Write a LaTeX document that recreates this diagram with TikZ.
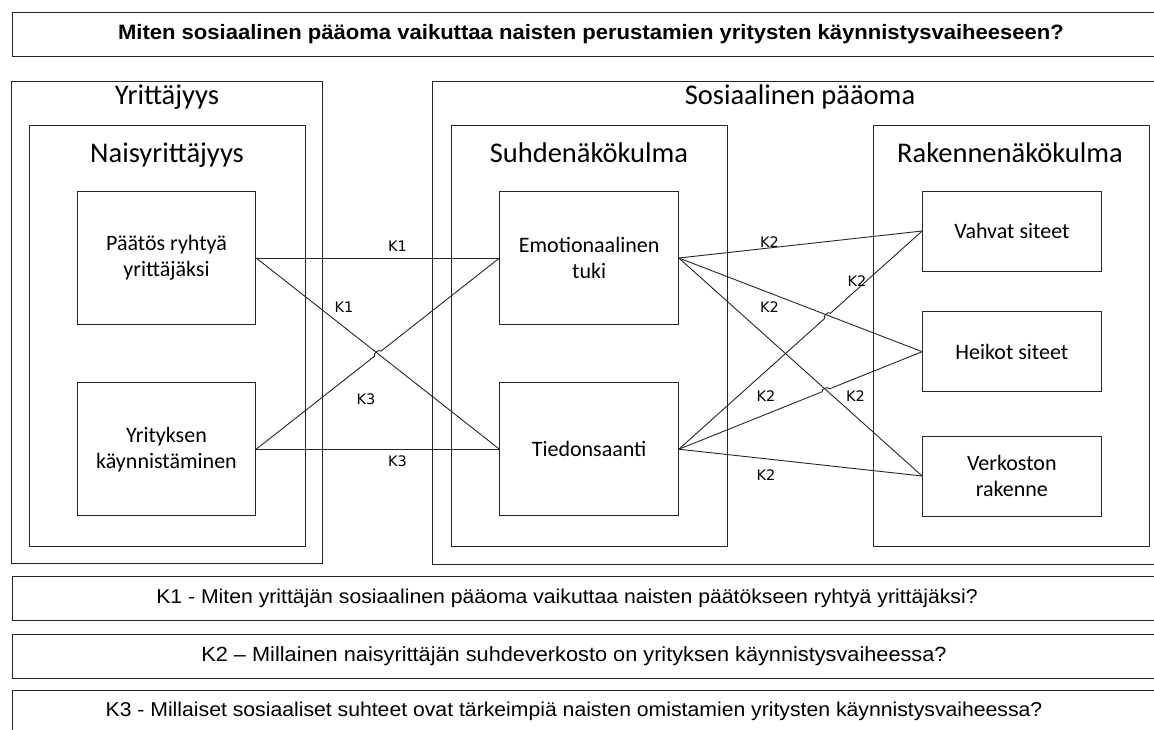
\documentclass[tikz,border=0pt]{standalone}
\usepackage{fontspec}
\setmainfont{Carlito}
\newfontfamily\questionfont[FakeStretch=1.06]{Liberation Sans}
\newfontfamily\klabelfont{DejaVu Sans}
\usetikzlibrary{calc}

\begin{document}
\begin{tikzpicture}[x=1pt,y=-1pt,
  frame/.style={draw=black!85, line width=1pt, inner sep=0pt},
  item/.style={frame, align=center, font=\fontsize{22}{26}\selectfont,
    minimum width=178.4pt},
  title/.style={anchor=base, inner sep=0pt, font=\fontsize{28.5}{33}\selectfont},
  question/.style={inner sep=0pt, font=\questionfont\fontsize{20}{24}\selectfont},
  link/.style={draw=black!85, line width=0.9pt},
  klabel/.style={inner sep=1pt, font=\klabelfont\fontsize{14.5}{17}\selectfont}
]
\useasboundingbox (0,0) rectangle (1154,729);
\clip (0,0) rectangle (1154,729);

% research question
\node[frame, minimum width=1158pt, minimum height=44.5pt] (head) at (591,34.3) {};
\node[question, font=\questionfont\bfseries\fontsize{20.8}{24}\selectfont] (headtext) at (591,34.3)
  {Miten sosiaalinen pääoma vaikuttaa naisten perustamien yritysten käynnistysvaiheeseen?};

% entrepreneurship side
\node[frame, minimum width=311pt, minimum height=482.5pt] (yrit) at (167.2,322.25) {};
\node[title] (yrittitle) at (167,104.3) {Yrittäjyys};
\node[frame, minimum width=275.7pt, minimum height=420.3pt] (nais) at (167.15,335.85) {};
\node[title] (naistitle) at (167,162.7) {Naisyrittäjyys};
\node[item, minimum height=132.6pt] (paatos) at (166.5,258) {Päätös ryhtyä\\yrittäjäksi};
\node[item, minimum height=133pt] (yrityksen) at (166.5,449.2) {Yrityksen\\käynnistäminen};

% social capital side
\node[frame, minimum width=737.3pt, minimum height=483pt] (sos) at (801.35,322.5) {};
\node[title] (sostitle) at (800,104.3) {Sosiaalinen pääoma};
\node[frame, minimum width=275.6pt, minimum height=420.3pt] (suhde) at (589.5,335.85) {};
\node[title] (suhdetitle) at (589,162.7) {Suhdenäkökulma};
\node[item, minimum height=132.6pt] (emot) at (589.15,258) {Emotionaalinen\\tuki};
\node[item, minimum height=133pt] (tied) at (589.15,449.2) {Tiedonsaanti};

\node[frame, minimum width=276pt, minimum height=420.3pt] (rak) at (1011,335.85) {};
\node[title] (raktitle) at (1010,162.7) {Rakennenäkökulma};
\node[item, minimum height=80pt] (vahvat) at (1011.85,231) {Vahvat siteet};
\node[item, minimum height=80pt] (heikot) at (1011.85,351.7) {Heikot siteet};
\node[item, minimum height=80pt] (verk) at (1011.85,476) {Verkoston\\rakenne};

% K1 and K3 links
\draw[link] (paatos.east) -- (emot.west);
\draw[link] (paatos.east) -- (tied.west);
\draw[link] (yrityksen.east) -- ($(yrityksen.east)!0.487!(emot.west)$)
  to[bend left=90] ($(yrityksen.east)!0.513!(emot.west)$) -- (emot.west);
\draw[link] (yrityksen.east) -- (tied.west);

% K2 links
\draw[link] (emot.east) -- (vahvat.west);
\draw[link] (emot.east) -- (heikot.west);
\draw[link] (emot.east) -- (verk.west);
\draw[link] (tied.east) -- ($(tied.east)!0.599!(vahvat.west)$)
  to[bend left=90] ($(tied.east)!0.623!(vahvat.west)$) -- (vahvat.west);
\draw[link] (tied.east) -- ($(tied.east)!0.589!(heikot.west)$)
  to[bend left=90] ($(tied.east)!0.619!(heikot.west)$) -- (heikot.west);
\draw[link] (tied.east) -- (verk.west);

% link labels
\node[klabel] (k1a) at (397.5,246) {K1};
\node[klabel] (k1b) at (344,307.5) {K1};
\node[klabel] (k3a) at (366,399) {K3};
\node[klabel] (k3b) at (397.5,461) {K3};
\node[klabel] (k2a) at (769.5,242.5) {K2};
\node[klabel] (k2b) at (857,281.5) {K2};
\node[klabel] (k2c) at (769.5,307.5) {K2};
\node[klabel] (k2d) at (766,396.5) {K2};
\node[klabel] (k2e) at (855.5,396.5) {K2};
\node[klabel] (k2f) at (766,475) {K2};

% sub-questions
\node[frame, minimum width=1158pt, minimum height=44pt] (q1) at (591,598) {};
\node[question] (q1text) at (567,598)
  {K1 - Miten yrittäjän sosiaalinen pääoma vaikuttaa naisten päätökseen ryhtyä yrittäjäksi?};
\node[frame, minimum width=1158pt, minimum height=44.3pt] (q2) at (591,656.15) {};
\node[question, font=\questionfont\fontsize{20.5}{24}\selectfont] (q2text) at (574,656.15)
  {K2 – Millainen naisyrittäjän suhdeverkosto on yrityksen käynnistysvaiheessa?};
\node[frame, minimum width=1158pt, minimum height=54.3pt] (q3) at (591,717.85) {};
\node[question] (q3text) at (574,711.5)
  {K3 - Millaiset sosiaaliset suhteet ovat tärkeimpiä naisten omistamien yritysten käynnistysvaiheessa?};
\end{tikzpicture}
\end{document}
